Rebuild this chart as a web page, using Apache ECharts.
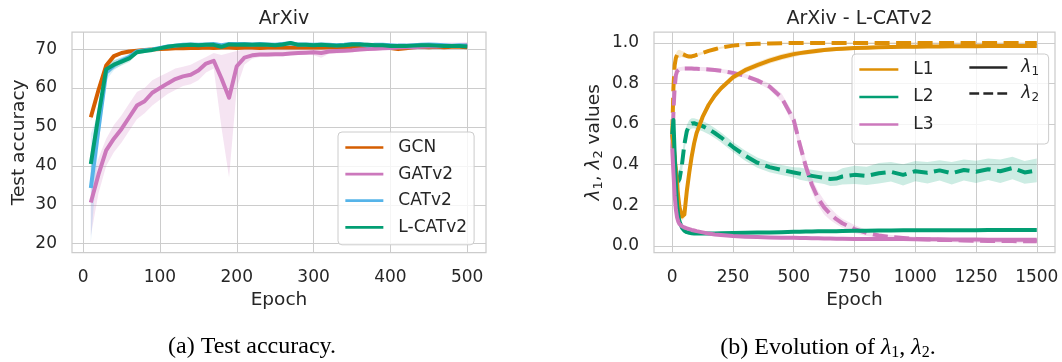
<!DOCTYPE html>
<html><head><meta charset="utf-8">
<script src="https://cdn.jsdelivr.net/npm/echarts@6/dist/echarts.min.js"></script>
<style>html,body{margin:0;padding:0;background:#fff}#c{width:1062px;height:362px}</style>
</head><body><div id="c"></div>
<script>
// ---------- Left panel: test accuracy ----------
const epochsA = [10,20,30,40,50,60,70,80,90,100,110,120,130,140,150,160,170,180,190,200,210,220,230,240,250,260,270,280,290,300,310,320,330,340,350,360,370,380,390,400,410,420,430,440,450,460,470,480,490,500];
const ticksAx = [0,100,200,300,400,500];
const ticksAy = [20,30,40,50,60,70];

const gcn = [52.5,59.5,65.8,68.2,69.0,69.4,69.6,69.8,69.9,70.0, 70.1,70.2,70.2,70.3,70.3,70.4,70.3,70.4,70.4,70.3, 70.4,70.4,70.3,70.4,70.5,70.4,70.4,70.5,70.4,70.5, 70.4,70.5,70.5,70.4,70.5,70.5,70.6,70.5,70.6,70.3, 70.0,70.2,70.5,70.6,70.5,70.6,70.5,70.6,70.6,70.5];
const gcnBand = [1.0,1.0,0.8,0.5,0.4,0.3,0.3,0.3,0.3,0.3, 0.3,0.3,0.3,0.3,0.3,0.3,0.3,0.3,0.3,0.3, 0.3,0.3,0.3,0.3,0.3,0.3,0.3,0.3,0.3,0.3, 0.3,0.3,0.3,0.3,0.3,0.3,0.3,0.3,0.3,0.3, 0.3,0.3,0.3,0.3,0.3,0.3,0.3,0.3,0.3,0.3];

const gatv2 = [30.6,37.8,44.0,47.0,49.5,52.5,55.5,56.6,58.8,60.0, 61.2,62.3,63.0,63.4,64.5,66.3,67.0,62.5,57.5,65.6, 67.8,68.4,68.6,68.6,68.7,68.7,68.9,69.0,69.1,69.2, 69.0,69.4,69.5,69.6,69.7,69.9,70.0,70.1,70.2,70.3, 70.4,70.5,70.5,70.6,70.7,70.7,70.8,70.8,70.8,71.0];
const gatLo = [22,33,40,43.5,46,49,52,53.5,55.5,57, 58.5,59.5,60.5,61,62,64,65,50,37,60, 66,67.5,68,68,68.2,68.2,68.4,68.5,68.6,68.4, 67.8,68.8,68.9,69.0,69.2,69.4,69.5,69.6,69.7,69.8, 69.9,70.0,70.0,70.1,70.2,70.2,70.3,70.3,70.3,70.5];
const gatHi = [35,42,47,50.5,53,56,59,60,62,63, 64,65,65.5,66,67,68,69,68.5,69,69.5, 70,70,70.2,70.2,70.3,70.3,70.4,70.5,70.6,70.6, 70.5,70.7,70.8,70.9,71.0,71.1,71.2,71.3,71.3,71.4, 71.4,71.5,71.5,71.6,71.6,71.6,71.7,71.7,71.7,71.8];

const catv2 = [34.3,49.5,64.0,65.8,67.0,68.0,69.4,69.7,69.9,70.3, 70.7,70.9,71.1,71.2,71.1,71.2,71.3,71.0,71.3,71.3, 71.3,71.2,71.3,71.2,71.1,71.3,71.5,71.2,71.2,71.1, 71.2,71.1,71.0,71.1,71.3,71.3,70.9,71.1,71.1,71.0, 70.9,70.9,71.0,71.1,71.2,71.1,71.0,70.9,71.0,70.9];
const catBand = [14,4,2,1.2,1.0,0.8,0.6,0.5,0.4,0.4, 0.4,0.4,0.4,0.4,0.4,0.4,0.4,0.4,0.4,0.4, 0.4,0.4,0.4,0.4,0.4,0.4,0.4,0.4,0.4,0.4, 0.4,0.4,0.4,0.4,0.4,0.4,0.9,0.4,0.4,0.4, 0.4,0.4,0.4,0.4,0.4,0.4,0.4,0.4,0.4,0.4];

const lcatv2 = [40.5,53.0,64.8,66.0,66.8,67.6,69.2,69.5,69.8,70.2, 70.6,70.9,71.0,71.1,71.0,71.1,71.1,70.6,71.2,71.1, 71.2,71.1,71.2,71.1,71.0,71.2,71.6,71.1,71.1,71.0, 71.1,71.0,70.9,71.0,71.2,71.2,71.1,71.0,71.0,70.8, 70.8,70.8,70.9,71.0,71.0,70.9,70.8,70.8,70.8,70.7];
const lcatBand = [3,3,1.5,1.2,1.0,0.9,0.6,0.5,0.4,0.3, 0.3,0.3,0.3,0.3,0.3,0.3,0.3,0.3,0.3,0.3, 0.3,0.3,0.3,0.3,0.3,0.3,0.3,0.3,0.3,0.3, 0.3,0.3,0.3,0.3,0.3,0.3,0.3,0.3,0.3,0.3, 0.3,0.3,0.3,0.3,0.3,0.3,0.3,0.3,0.3,0.3];

// ---------- Right panel: lambda evolution ----------
const epochsB = [0,5,10,15,20,25,30, 40,50,60,70,80,90,100, 125,150,175,200, 250,300,350,400,450,500, 525,550,575,600,625,650,675,700, 750,800,850,900,950,1000,1050,1100,1150,1200,1250,1300,1350,1400,1450,1500];
const ticksBx = [0,250,500,750,1000,1250,1500];
const ticksBy = [0,0.2,0.4,0.6,0.8,1.0];

const l1lam1 = [0.55,0.50,0.44,0.37,0.30,0.24,0.19, 0.145,0.155,0.27,0.36,0.44,0.505,0.555, 0.635,0.695,0.74,0.775, 0.83,0.865,0.89,0.912,0.93,0.944, 0.949,0.953,0.957,0.961,0.964,0.967,0.969,0.971, 0.974,0.976,0.978,0.979,0.980,0.981,0.982,0.982,0.983,0.983,0.983,0.984,0.984,0.984,0.984,0.984];
const l1lam2 = [0.55,0.78,0.89,0.925,0.94,0.945,0.946, 0.945,0.94,0.935,0.932,0.933,0.936,0.94, 0.95,0.96,0.968,0.976, 0.986,0.992,0.995,0.997,0.998,0.999, 0.999,0.999,0.999,0.999,0.999,0.999,0.999,0.999, 0.999,0.999,0.999,0.999,0.999,0.999,0.999,0.999,0.999,0.999,0.999,0.999,0.999,0.999,0.999,0.999];
const l2lam1 = [0.55,0.62,0.45,0.30,0.20,0.15,0.12, 0.09,0.075,0.068,0.065,0.063,0.062,0.062, 0.062,0.062,0.062,0.063, 0.064,0.065,0.066,0.067,0.068,0.070, 0.070,0.071,0.071,0.072,0.072,0.073,0.073,0.074, 0.075,0.075,0.076,0.076,0.077,0.077,0.077,0.078,0.078,0.078,0.078,0.079,0.079,0.079,0.079,0.079];
const l2lam2 = [0.55,0.50,0.42,0.36,0.33,0.32,0.33, 0.40,0.50,0.565,0.595,0.603,0.604,0.60, 0.59,0.575,0.556,0.535, 0.487,0.445,0.41,0.388,0.374,0.362, 0.356,0.35,0.345,0.34,0.335,0.33,0.332,0.342, 0.35,0.345,0.358,0.365,0.35,0.368,0.36,0.372,0.358,0.374,0.365,0.378,0.368,0.384,0.362,0.372];
const l3lam1 = [0.48,0.36,0.25,0.18,0.14,0.12,0.108, 0.097,0.091,0.087,0.083,0.079,0.076,0.073, 0.067,0.061,0.057,0.054, 0.049,0.046,0.044,0.042,0.041,0.040, 0.039,0.039,0.038,0.038,0.037,0.037,0.036,0.036, 0.035,0.035,0.034,0.034,0.034,0.033,0.033,0.033,0.032,0.032,0.032,0.031,0.031,0.031,0.031,0.031];
const l3lam2 = [0.48,0.66,0.78,0.84,0.86,0.867,0.87, 0.872,0.873,0.873,0.873,0.873,0.872,0.872, 0.871,0.869,0.866,0.862, 0.852,0.837,0.815,0.785,0.73,0.62, 0.50,0.39,0.30,0.235,0.19,0.158,0.132,0.112, 0.083,0.064,0.052,0.044,0.039,0.035,0.032,0.030,0.029,0.027,0.026,0.025,0.024,0.024,0.023,0.023];

const b_l1lam1 = [0.02,0.02,0.02,0.02,0.02,0.02,0.02, 0.02,0.02,0.02,0.02,0.02,0.02,0.02, 0.015,0.015,0.015,0.015, 0.015,0.015,0.015,0.015,0.015,0.015, 0.012,0.012,0.012,0.012,0.01,0.01,0.01,0.01, 0.01,0.01,0.008,0.008,0.008,0.008,0.008,0.008,0.008,0.008,0.008,0.008,0.008,0.008,0.008,0.008];
const b_l1lam2 = [0.02,0.02,0.02,0.02,0.02,0.02,0.02, 0.015,0.015,0.01,0.01,0.01,0.008,0.008, 0.006,0.005,0.005,0.005, 0.004,0.003,0.003,0.003,0.003,0.003, 0.003,0.003,0.003,0.003,0.003,0.003,0.003,0.003, 0.003,0.003,0.003,0.003,0.003,0.003,0.003,0.003,0.003,0.003,0.003,0.003,0.003,0.003,0.003,0.003];
const b_l2lam1 = [0.03,0.03,0.03,0.03,0.03,0.02,0.015, 0.01,0.006,0.005,0.004,0.004,0.004,0.004, 0.004,0.004,0.004,0.004, 0.004,0.004,0.004,0.004,0.004,0.004, 0.004,0.004,0.004,0.004,0.004,0.004,0.004,0.004, 0.004,0.004,0.004,0.004,0.004,0.004,0.004,0.004,0.004,0.004,0.004,0.004,0.004,0.004,0.004,0.004];
const b_l2lam2 = [0.05,0.05,0.05,0.05,0.05,0.05,0.05, 0.04,0.035,0.03,0.025,0.025,0.025,0.025, 0.025,0.025,0.025,0.025, 0.025,0.025,0.025,0.025,0.025,0.025, 0.03,0.03,0.03,0.03,0.03,0.035,0.035,0.04, 0.045,0.045,0.05,0.048,0.052,0.05,0.053,0.05,0.055,0.052,0.055,0.053,0.058,0.055,0.056,0.058];
const b_l3lam1 = [0.03,0.03,0.03,0.03,0.02,0.015,0.01, 0.008,0.006,0.005,0.005,0.004,0.004,0.004, 0.004,0.004,0.004,0.004, 0.004,0.004,0.004,0.004,0.004,0.004, 0.004,0.004,0.004,0.004,0.004,0.004,0.004,0.004, 0.004,0.004,0.004,0.004,0.004,0.004,0.004,0.004,0.004,0.004,0.004,0.004,0.004,0.004,0.004,0.004];
const b_l3lam2 = [0.03,0.03,0.02,0.02,0.015,0.012,0.01, 0.01,0.01,0.01,0.01,0.01,0.01,0.01, 0.01,0.01,0.01,0.01, 0.01,0.01,0.012,0.015,0.02,0.03, 0.035,0.035,0.035,0.035,0.035,0.03,0.025,0.022, 0.02,0.015,0.012,0.01,0.01,0.01,0.01,0.01,0.01,0.01,0.01,0.01,0.01,0.01,0.01,0.01];

// ---------- styling ----------
const TXT = '#262626', GRIDC = '#cccccc', FONT = 'DejaVu Sans', FS = 17, FL = 18.5;
const C_GCN = '#d55e00', C_GAT = '#cc78bc', C_CAT = '#56b4e9', C_LCAT = '#029e73';
const C_L1 = '#de8f05', C_L2 = '#029e73', C_L3 = '#cc78bc';

function bandSeries(xi, xs, lo, hi, color) {
  return {
    type: 'custom', xAxisIndex: xi, yAxisIndex: xi, silent: true, z: 1, clip: true,
    data: xs.map((x, i) => [x, lo[i], hi[i]]),
    encode: { x: 0, y: [1, 2] },
    renderItem: function (params, api) {
      if (params.dataIndex !== 0) return;
      const pts = [];
      for (let i = 0; i < xs.length; i++) pts.push(api.coord([xs[i], hi[i]]));
      for (let i = xs.length - 1; i >= 0; i--) pts.push(api.coord([xs[i], lo[i]]));
      return { type: 'polygon', shape: { points: pts }, style: { fill: color, opacity: 0.2 } };
    }
  };
}
function symBand(xi, xs, m, hw, color) {
  return bandSeries(xi, xs, m.map((v, i) => v - hw[i]), m.map((v, i) => v + hw[i]), color);
}
function lineSeries(name, xi, xs, ys, color, dashed, z) {
  return {
    type: 'line', name: name, xAxisIndex: xi, yAxisIndex: xi, symbol: 'none', z: z || 3,
    data: xs.map((x, i) => [x, ys[i]]), color: color, clip: true, silent: true,
    lineStyle: { width: 4, color: color, type: dashed ? [15, 6.5] : 'solid', join: 'round' }
  };
}
function xAxisCfg(gi, min, max, ticks, fmt) {
  return {
    type: 'value', gridIndex: gi, min: min, max: max,
    axisLine: { show: false }, axisTick: { show: false, customValues: ticks },
    axisLabel: { customValues: ticks, fontSize: FS, color: TXT, fontFamily: FONT, margin: 16, formatter: fmt },
    splitLine: { show: true, lineStyle: { color: GRIDC, width: 1 } },
    name: 'Epoch', nameLocation: 'middle', nameGap: 37,
    nameTextStyle: { fontSize: FL, color: TXT, fontFamily: FONT }
  };
}
function yAxisCfg(gi, min, max, ticks, fmt, name, gap, rich) {
  return {
    type: 'value', gridIndex: gi, min: min, max: max,
    axisLine: { show: false }, axisTick: { show: false, customValues: ticks },
    axisLabel: { customValues: ticks, fontSize: FS, color: TXT, fontFamily: FONT, margin: 15, formatter: fmt },
    splitLine: { show: true, lineStyle: { color: GRIDC, width: 1 } },
    name: name, nameLocation: 'middle', nameGap: gap, nameRotate: 90,
    nameTextStyle: { fontSize: FL, color: TXT, fontFamily: FONT, rich: rich }
  };
}

const lamRich = {
  m: { fontSize: FL, fontStyle: 'italic', fontFamily: FONT, color: TXT },
  s: { fontSize: 13, fontFamily: FONT, color: TXT, padding: [9, 0, 0, 0] },
  n: { fontSize: FL, fontFamily: FONT, color: TXT }
};
const legRich = {
  m: { fontSize: FS, fontStyle: 'italic', fontFamily: FONT, color: TXT },
  s: { fontSize: 12, fontFamily: FONT, color: TXT, padding: [9, 0, 0, 0] }
};
const CAPF = 24;
const capRich = {
  n: { fontSize: CAPF, fontFamily: 'Liberation Serif', fontWeight: 'normal', color: '#000' },
  m: { fontSize: CAPF, fontFamily: 'Liberation Serif', fontStyle: 'italic', fontWeight: 'normal', color: '#000' },
  s: { fontSize: 16, fontFamily: 'Liberation Serif', fontWeight: 'normal', color: '#000', padding: [10, 0, 0, 0] }
};

const series = [
  symBand(0, epochsA, gcn, gcnBand, C_GCN),
  bandSeries(0, epochsA, gatLo, gatHi, C_GAT),
  symBand(0, epochsA, catv2, catBand, C_CAT),
  symBand(0, epochsA, lcatv2, lcatBand, C_LCAT),
  lineSeries('GCN', 0, epochsA, gcn, C_GCN, false, 3),
  lineSeries('GATv2', 0, epochsA, gatv2, C_GAT, false, 4),
  lineSeries('CATv2', 0, epochsA, catv2, C_CAT, false, 5),
  lineSeries('L-CATv2', 0, epochsA, lcatv2, C_LCAT, false, 6),
  symBand(1, epochsB, l1lam2, b_l1lam2, C_L1),
  symBand(1, epochsB, l2lam2, b_l2lam2, C_L2),
  symBand(1, epochsB, l3lam2, b_l3lam2, C_L3),
  symBand(1, epochsB, l1lam1, b_l1lam1, C_L1),
  symBand(1, epochsB, l2lam1, b_l2lam1, C_L2),
  symBand(1, epochsB, l3lam1, b_l3lam1, C_L3),
  lineSeries('L1 λ2', 1, epochsB, l1lam2, C_L1, true, 3),
  lineSeries('L2 λ2', 1, epochsB, l2lam2, C_L2, true, 4),
  lineSeries('L3 λ2', 1, epochsB, l3lam2, C_L3, true, 5),
  lineSeries('L1', 1, epochsB, l1lam1, C_L1, false, 6),
  lineSeries('L2', 1, epochsB, l2lam1, C_L2, false, 7),
  lineSeries('L3', 1, epochsB, l3lam1, C_L3, false, 8),
  { type: 'line', name: 'λ1', xAxisIndex: 1, yAxisIndex: 1, data: [], symbol: 'none', color: TXT, lineStyle: { color: TXT, width: 2.7 } },
  { type: 'line', name: 'λ2', xAxisIndex: 1, yAxisIndex: 1, data: [], symbol: 'none', color: TXT, lineStyle: { color: TXT, width: 2.7, type: [9.8, 4.2] } }
];

const legendBox = { backgroundColor: 'rgba(255,255,255,0.8)', borderColor: GRIDC, borderWidth: 1, borderRadius: 4 };
const hideSym = { opacity: 0, color: 'transparent', borderWidth: 0 };
const option = {
  animation: false,
  backgroundColor: '#ffffff',
  textStyle: { fontFamily: FONT, color: TXT },
  title: [
    { text: 'ArXiv', left: 279, top: 5, textAlign: 'center', textStyle: { fontSize: 19, fontWeight: 'normal', color: TXT, fontFamily: FONT } },
    { text: 'ArXiv - L-CATv2', left: 854.5, top: 5, textAlign: 'center', textStyle: { fontSize: 19, fontWeight: 'normal', color: TXT, fontFamily: FONT } },
    { text: '{n|(a) Test accuracy.}', left: 247, top: 330, textAlign: 'center', textStyle: { rich: capRich, fontWeight: 'normal' } },
    { text: '{n|(b) Evolution of }{m|λ}{s|1}{n|, }{m|λ}{s|2}{n|.}', left: 823, top: 330, textAlign: 'center', textStyle: { rich: capRich, fontWeight: 'normal' } }
  ],
  grid: [
    { left: 72, top: 32, width: 414, height: 220.7, show: true, borderColor: GRIDC, borderWidth: 1.25, backgroundColor: '#fff' },
    { left: 654, top: 32, width: 401, height: 220.7, show: true, borderColor: GRIDC, borderWidth: 1.25, backgroundColor: '#fff' }
  ],
  xAxis: [
    xAxisCfg(0, -14.5, 524.5, ticksAx, v => String(v)),
    xAxisCfg(1, -75, 1575, ticksBx, v => String(v))
  ],
  yAxis: [
    yAxisCfg(0, 17.7, 74.4, ticksAy, v => String(v), 'Test accuracy', 43, null),
    yAxisCfg(1, -0.033, 1.053, ticksBy, v => v.toFixed(1), '{m|λ}{s|1}{n|, }{m|λ}{s|2}{n| values}', 49, lamRich)
  ],
  legend: [
    Object.assign({
      data: ['GCN', 'GATv2', 'CATv2', 'L-CATv2'], orient: 'vertical', left: 338, top: 132,
      padding: [7, 7, 9, 6], itemWidth: 38, itemHeight: 14, itemGap: 9.6, selectedMode: false,
      lineStyle: { width: 2.7 }, itemStyle: hideSym,
      textStyle: { fontSize: FS, color: TXT, fontFamily: FONT, padding: [0, 0, 0, 10] }
    }, legendBox),
    Object.assign({
      data: ['L1', 'L2', 'L3'], orient: 'vertical', left: 852, top: 54,
      padding: [7, 115, 11, 6], itemWidth: 39, itemHeight: 14, itemGap: 10.5, selectedMode: false,
      lineStyle: { width: 2.7 }, itemStyle: hideSym,
      textStyle: { fontSize: FS, color: TXT, fontFamily: FONT, padding: [0, 0, 0, 10] }
    }, legendBox),
    {
      data: [{ name: 'λ1' }, { name: 'λ2' }], orient: 'vertical', left: 968, top: 59,
      padding: 0, itemWidth: 38, itemHeight: 14, itemGap: 7, selectedMode: false, z: 10,
      lineStyle: { width: 2.7 }, itemStyle: hideSym,
      formatter: n => n === 'λ1' ? '{m|λ}{s|1}' : '{m|λ}{s|2}',
      textStyle: { fontSize: FS, color: TXT, fontFamily: FONT, padding: [0, 0, 0, 9], rich: legRich }
    }
  ],
  series: series
};
const chart = echarts.init(document.getElementById('c'));
chart.setOption(option);
</script></body></html>
